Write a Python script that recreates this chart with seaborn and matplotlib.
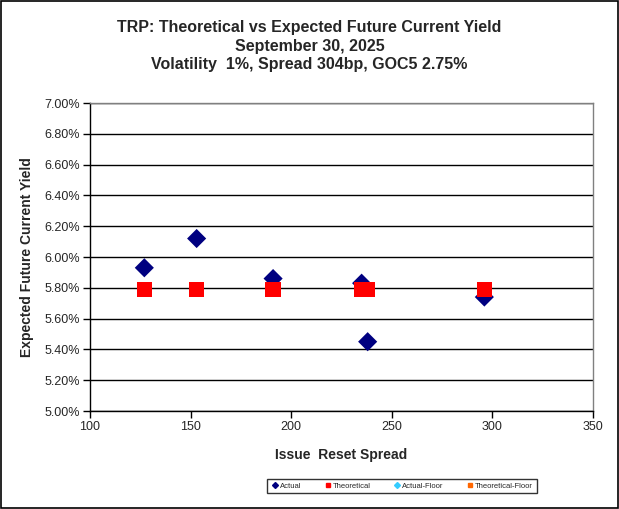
import matplotlib
matplotlib.use('Agg')
import matplotlib.pyplot as plt
import seaborn as sns
import pandas as pd
from matplotlib.ticker import FuncFormatter, MultipleLocator
from matplotlib.lines import Line2D

# Данные
actual_spread = [127, 153, 191, 235, 238, 296]
actual_yield = [5.93, 6.12, 5.86, 5.83, 5.45, 5.74]
theo_spread = [127, 153, 191, 235, 238, 296]
theo_yield = [5.79, 5.79, 5.79, 5.79, 5.79, 5.79]

df_act = pd.DataFrame({'spread': actual_spread, 'yld': actual_yield})
df_theo = pd.DataFrame({'spread': theo_spread, 'yld': theo_yield})

sns.set_theme(style="white")
plt.rcParams['font.family'] = ['Liberation Sans', 'DejaVu Sans']

fig = plt.figure(figsize=(6.19, 5.09), dpi=100)
ax = fig.add_axes([90 / 619, 1 - 411 / 509, 503 / 619, 308 / 509])

sns.scatterplot(data=df_act, x='spread', y='yld', marker='D', s=95,
                color='#000080', edgecolor='none', ax=ax, zorder=3)
sns.scatterplot(data=df_theo, x='spread', y='yld', marker='s', s=120,
                color='#FF0000', edgecolor='none', ax=ax, zorder=4)

ax.set_xlim(100, 350)
ax.set_ylim(5.0, 7.0)
ax.xaxis.set_major_locator(MultipleLocator(50))
ax.yaxis.set_major_locator(MultipleLocator(0.2))
ax.yaxis.set_major_formatter(FuncFormatter(lambda v, p: f'{v:.2f}%'))
ax.grid(axis='y', color='black', linewidth=1)
ax.set_axisbelow(True)

for side in ['top', 'right']:
    ax.spines[side].set_color('#808080')
for side in ['left', 'bottom']:
    ax.spines[side].set_color('black')
for side in ax.spines:
    ax.spines[side].set_linewidth(1)

ax.tick_params(axis='both', direction='out', length=5, width=1, color='black',
               labelsize=9, bottom=True, left=True, pad=2)
ax.set_xlabel('Issue  Reset Spread', fontsize=10, fontweight='bold', labelpad=11)
ax.set_ylabel('Expected Future Current Yield', fontsize=10, fontweight='bold', labelpad=8)

fig.text(0.5, 1 - 20 / 509, 'TRP: Theoretical vs Expected Future Current Yield\n'
         'September 30, 2025\nVolatility  1%, Spread 304bp, GOC5 2.75%',
         ha='center', va='top', fontsize=11.5, fontweight='bold', linespacing=1.3)

handles = [
    Line2D([], [], marker='D', color='#000080', linestyle='none', markersize=3),
    Line2D([], [], marker='s', color='#FF0000', linestyle='none', markersize=3),
    Line2D([], [], marker='D', color='#33CCFF', linestyle='none', markersize=3),
    Line2D([], [], marker='s', color='#FF6600', linestyle='none', markersize=2.5),
]
labels = ['Actual', 'Theoretical', 'Actual-Floor', 'Theoretical-Floor']
fig.legend(handles, labels, loc='center', bbox_to_anchor=(402 / 619, 1 - 486 / 509),
           ncol=4, fontsize=5.5, frameon=True, fancybox=False, edgecolor='black',
           handletextpad=0.2, columnspacing=2.9, borderpad=0.5, handlelength=1)

# Рамка вокруг всей фигуры
fig.patches.append(plt.Rectangle((0.001, 0.001), 0.997, 0.997, transform=fig.transFigure,
                                 fill=False, edgecolor='black', linewidth=1.2))

fig.savefig('out.png', dpi=100, facecolor='white')
